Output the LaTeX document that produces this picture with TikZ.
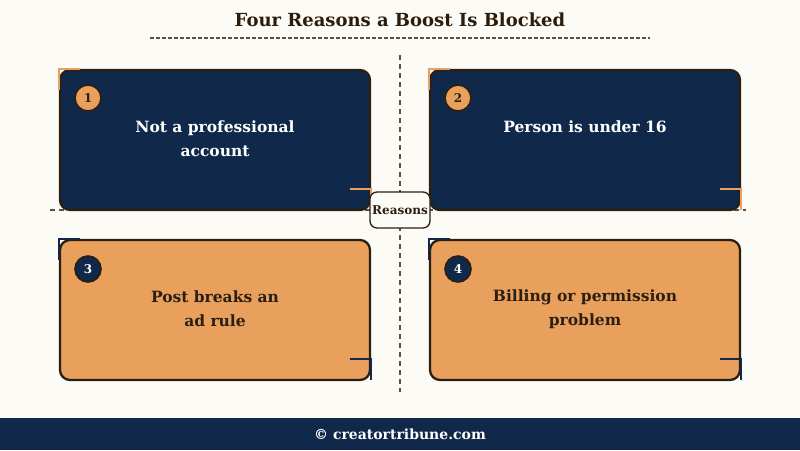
\documentclass[tikz,border=0pt]{standalone}
\usepackage{fontspec}
\setmainfont{DejaVu Serif}
\definecolor{bg}{HTML}{FDFBF6}
\definecolor{navy}{HTML}{10294A}
\definecolor{orng}{HTML}{E8A05C}
\definecolor{edge}{HTML}{2B1F12}
\definecolor{ttl}{HTML}{2B1D0E}
\definecolor{dash}{HTML}{5A5048}
\begin{document}
\begin{tikzpicture}[x=1pt,y=-1pt,
  card/.style={draw=edge,line width=2.3pt,rounded corners=10pt},
  num/.style={circle,draw=edge,line width=1.6pt,minimum size=26pt,inner sep=0pt,font=\bfseries\fontsize{12}{13}\selectfont},
  lbl/.style={align=center,font=\bfseries\fontsize{15.5}{24}\selectfont},
  guide/.style={draw=dash,line width=1.3pt,dash pattern=on 5pt off 4pt},
  brk/.style={line width=2pt}]
\fill[bg] (0,0) rectangle (800,450);
\useasboundingbox (0,0) rectangle (800,450);
% title
\node[font=\bfseries\fontsize{18}{22}\selectfont,text=ttl] (title) at (400,20) {Four Reasons a Boost Is Blocked};
\coordinate (tl) at (150,38); \coordinate (tr) at (650,38);
\draw[draw=dash,line width=1.2pt,dash pattern=on 3.5pt off 2.5pt] (tl) -- (tr);
% guides
\coordinate (vt) at (400,55); \coordinate (vb) at (400,392);
\coordinate (hl) at (50,210); \coordinate (hr) at (746,210);
\draw[guide] (vt) -- (vb);
\draw[guide] (hl) -- (hr);
% cards
\draw[card,fill=navy] (60,70) rectangle (370,210);
\draw[card,fill=navy] (430,70) rectangle (740,210);
\draw[card,fill=orng] (60,240) rectangle (370,380);
\draw[card,fill=orng] (430,240) rectangle (740,380);
% brackets
\draw[brk,orng] (80,69) -- (59,69) -- (59,90);
\draw[brk,orng] (350,189) -- (371,189) -- (371,210);
\draw[brk,orng] (450,69) -- (429,69) -- (429,90);
\draw[brk,orng] (720,189) -- (741,189) -- (741,210);
\draw[brk,navy] (80,239) -- (59,239) -- (59,260);
\draw[brk,navy] (350,359) -- (371,359) -- (371,380);
\draw[brk,navy] (450,239) -- (429,239) -- (429,260);
\draw[brk,navy] (720,359) -- (741,359) -- (741,380);
% numbers
\node[num,fill=orng,text=edge] (n1) at (88,98) {1};
\node[num,fill=orng,text=edge] (n2) at (458,98) {2};
\node[num,fill=navy,text=white] (n3) at (88,269) {3};
\node[num,fill=navy,text=white] (n4) at (458,269) {4};
% labels
\node[lbl,text=white] (t1) at (215,139) {Not a professional\\account};
\node[lbl,text=white] (t2) at (585,127) {Person is under 16};
\node[lbl,text=edge] (t3) at (215,309) {Post breaks an\\ad rule};
\node[lbl,text=edge] (t4) at (585,309) {Billing or permission\\problem};
% center
\node[draw=edge,line width=1.3pt,fill=bg,rounded corners=7pt,minimum width=60pt,minimum height=36pt,inner sep=1pt,font=\bfseries\fontsize{12}{13}\selectfont,text=edge] (c) at (400,210) {Reasons};
% footer
\fill[navy] (0,418) rectangle (800,450);
\node[text=white,font=\bfseries\fontsize{14}{15}\selectfont] (foot) at (400,434) {© creatortribune.com};
\end{tikzpicture}
\end{document}
